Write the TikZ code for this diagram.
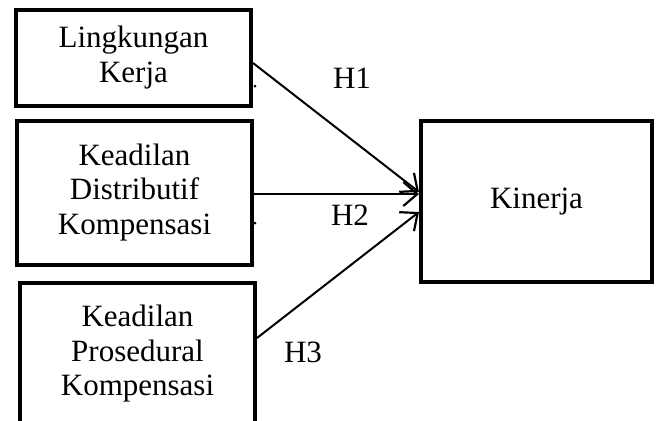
\documentclass[tikz,border=0pt]{standalone}
\usepackage{fontspec}
\setmainfont{Liberation Serif}
\usetikzlibrary{arrows.meta}
\begin{document}
\begin{tikzpicture}[x=1pt,y=-1pt,
  varbox/.style={draw=black,line width=4pt,minimum width=235pt,align=center,inner sep=0pt,
    font=\fontsize{31}{34.5}\selectfont,text=black},
  link/.style={line width=2pt,-{Straight Barb[length=14pt,width=24pt,line width=2.2pt]}},
  hlabel/.style={font=\fontsize{31}{34.5}\selectfont,text=black,inner sep=0pt},
  stray/.style={circle,fill=black,inner sep=0pt,minimum size=3pt}]
\useasboundingbox (0,0) rectangle (657,421);
\clip (0,0) rectangle (657,421);
\node[varbox,minimum height=96pt] (b1) at (133.5,57.5) {Lingkungan\\Kerja};
\node[varbox,minimum height=144pt] (b2) at (134.5,192.5) {Keadilan\\Distributif\\Kompensasi};
\node[varbox,minimum height=142pt] (b3) at (137.5,354) {Keadilan\\Prosedural\\Kompensasi};
\node[varbox,minimum width=231pt,minimum height=161pt] (k) at (536.5,201.5) {Kinerja};
\draw[link] ([yshift=-5.5pt]b1.east) -- ([yshift=9.5pt]k.west);
\draw[link] ([yshift=-1.5pt]b2.east) -- ([yshift=7.5pt]k.west);
\draw[link] ([yshift=16pt]b3.east) -- ([yshift=-10.5pt]k.west);
\node[hlabel] (h1) at (352,78) {H1};
\node[hlabel] (h2) at (350,215) {H2};
\node[hlabel] (h3) at (303,352) {H3};
\node[stray] (d1) at (255,86) {};
\node[stray] (d2) at (255,223) {};
\end{tikzpicture}
\end{document}
